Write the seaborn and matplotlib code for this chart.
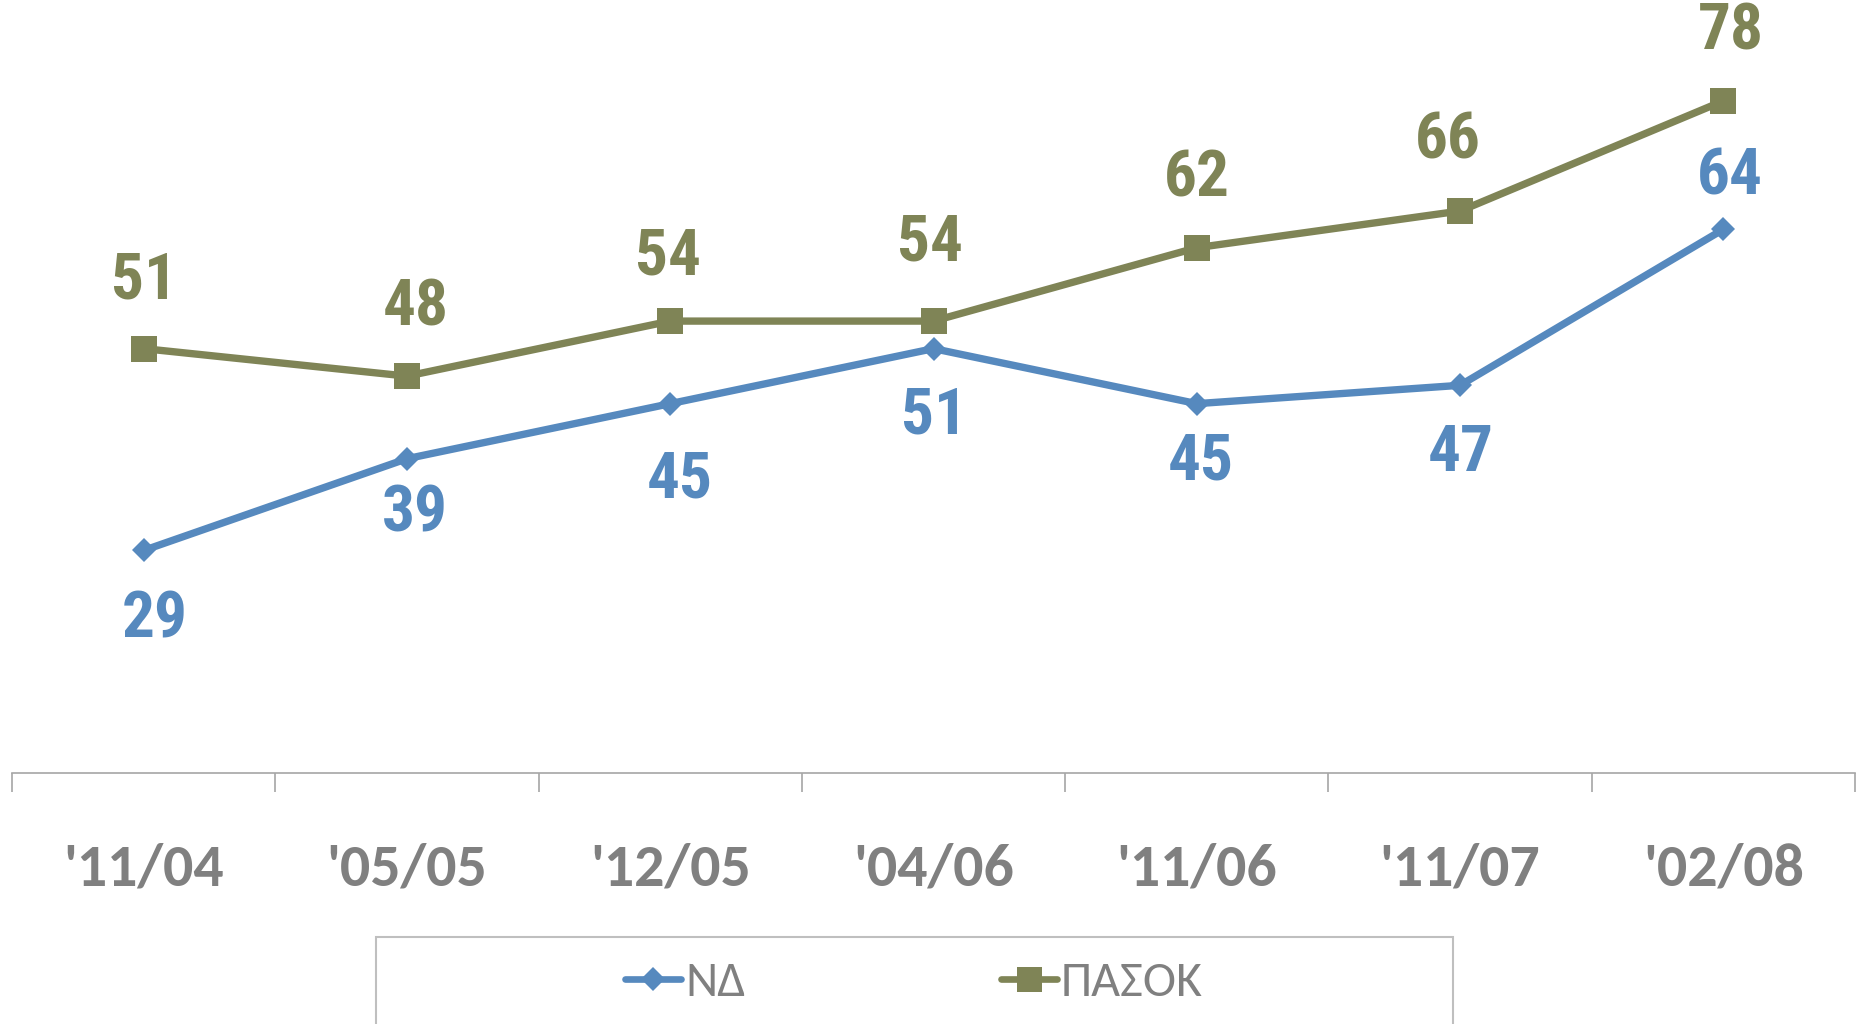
import matplotlib
matplotlib.use("Agg")
import matplotlib.pyplot as plt
from matplotlib.patches import Rectangle
from matplotlib.lines import Line2D
import seaborn as sns
import pandas as pd
import numpy as np

categories = ["'11/04", "'05/05", "'12/05", "'04/06", "'11/06", "'11/07", "'02/08"]
nd_values = [29, 39, 45, 51, 45, 47, 64]
pasok_values = [51, 48, 54, 54, 62, 66, 78]
series_names = ["ΝΔ", "ΠΑΣΟΚ"]

BLUE = "#5689BE"
OLIVE = "#7F8456"
GRAY = "#808080"
AXIS_GRAY = "#A6A6A6"

sns.set_theme(style="white")
plt.rcParams['font.family'] = ['Carlito', 'DejaVu Sans']
LABEL_FONT = ['Roboto Condensed', 'Liberation Sans', 'DejaVu Sans']

fig = plt.figure(figsize=(18.64, 10.24), dpi=100)
ax = fig.add_axes([12/1864, 1 - 773/1024, (1855-12)/1864, 773/1024])

x = np.arange(len(categories))
df = pd.DataFrame({"x": np.concatenate([x, x]),
                   "v": nd_values + pasok_values,
                   "s": [series_names[0]]*len(x) + [series_names[1]]*len(x)})

LW = 5.3
sns.lineplot(data=df[df.s == series_names[0]], x="x", y="v", ax=ax, color=BLUE,
             lw=LW, marker="D", markersize=12.2, markeredgewidth=0, legend=False)
sns.lineplot(data=df[df.s == series_names[1]], x="x", y="v", ax=ax, color=OLIVE,
             lw=LW, marker="s", markersize=18.5, markeredgewidth=0, legend=False)

ax.set_xlim(-0.5, len(categories) - 0.5)
ax.set_ylim(4.74, 89.0)
ax.set_xlabel("")
ax.set_ylabel("")
ax.set_yticks([])
ax.set_xticks(x)
ax.set_xticklabels(categories)
ax.set_xticks(np.arange(-0.5, len(categories)), minor=True)
ax.tick_params(axis='x', which='major', length=0, pad=50, labelsize=43, labelcolor=GRAY)
ax.tick_params(axis='x', which='minor', length=14, width=1.2, color=AXIS_GRAY, direction='out', bottom=True)
for lbl in ax.get_xticklabels():
    lbl.set_fontweight('bold')
for sp in ["top", "left", "right"]:
    ax.spines[sp].set_visible(False)
ax.spines["bottom"].set_color(AXIS_GRAY)
ax.spines["bottom"].set_linewidth(1.2)

# label offsets in pixels (dx, dy)
pasok_off = [(0, 68), (9, 68), (-2, 64), (-4, 78), (0, 69), (-12, 70), (8, 69)]
nd_off = [(11, -70), (8, -55), (10, -76), (1, -67), (4, -58), (1, -68), (7, 52)]
for i, v in enumerate(pasok_values):
    ax.annotate(str(v), (x[i], v), xytext=pasok_off[i], textcoords='offset pixels',
                ha='center', va='center', fontsize=47, fontweight='bold', color=OLIVE,
                family=LABEL_FONT, annotation_clip=False)
for i, v in enumerate(nd_values):
    ax.annotate(str(v), (x[i], v), xytext=nd_off[i], textcoords='offset pixels',
                ha='center', va='center', fontsize=47, fontweight='bold', color=BLUE,
                family=LABEL_FONT, annotation_clip=False)

# legend box
fig.patches.append(Rectangle((376/1864, -0.05), (1453-376)/1864, 0.05 + (1 - 937/1024),
                             transform=fig.transFigure, fill=False, edgecolor="#BFBFBF",
                             linewidth=1.5))
handles = [Line2D([], [], color=BLUE, lw=4.8, marker="D", markersize=12, markeredgewidth=0,
                  solid_capstyle='round'),
           Line2D([], [], color=OLIVE, lw=4.8, marker="s", markersize=18, markeredgewidth=0,
                  solid_capstyle='round')]
leg = fig.legend(handles, series_names, loc='center', bbox_to_anchor=(914/1864, 1 - 983/1024),
                 ncol=2, frameon=False, fontsize=36, handlelength=1.12, handletextpad=0.08,
                 columnspacing=5.1, labelcolor=GRAY)

fig.savefig("out.png", dpi=100)
